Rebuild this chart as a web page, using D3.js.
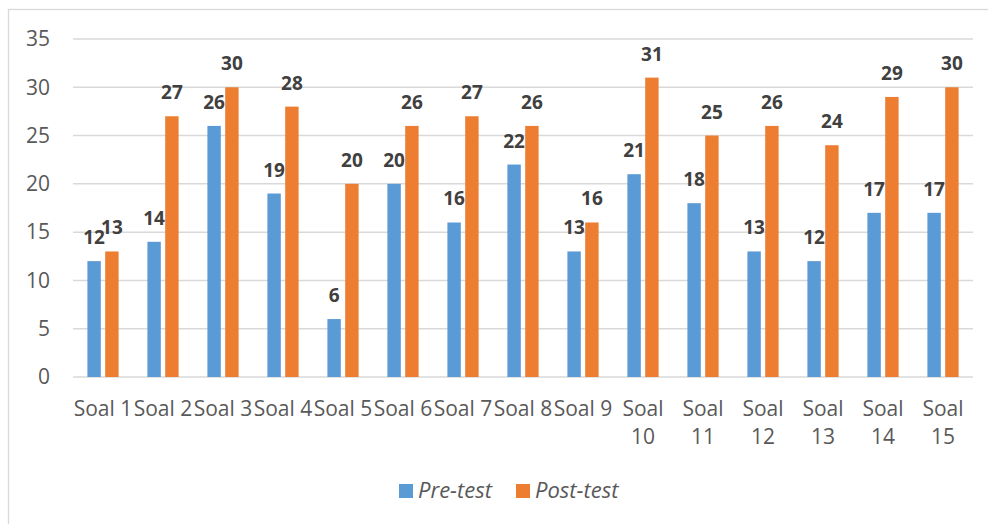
<!DOCTYPE html>
<html>
<head>
<meta charset="utf-8">
<script src="https://cdn.jsdelivr.net/npm/d3@7"></script>
<style>
  html, body { margin: 0; padding: 0; background: #fff; }
  svg { display: block; font-family: "Open Sans", "Liberation Sans", sans-serif; }
</style>
</head>
<body>
<svg id="chart" width="988" height="524"></svg>
<script>
// Scores per question, before and after the lesson
const categories = ["Soal 1","Soal 2","Soal 3","Soal 4","Soal 5","Soal 6","Soal 7","Soal 8","Soal 9","Soal 10","Soal 11","Soal 12","Soal 13","Soal 14","Soal 15"];
const seriesNames = ["Pre-test", "Post-test"];
const preTest  = [12, 14, 26, 19, 6, 20, 16, 22, 13, 21, 18, 13, 12, 17, 17];
const postTest = [13, 27, 30, 28, 20, 26, 27, 26, 16, 31, 25, 26, 24, 29, 30];
const yTicks = [0, 5, 10, 15, 20, 25, 30, 35];
const colors = ["#5B9BD5", "#ED7D31"];

const svg = d3.select("#chart");
const plot = { left: 73, right: 973, top: 39, bottom: 377 };

// Chart frame
svg.append("rect")
  .attr("x", 8.5).attr("y", 9.5)
  .attr("width", 1000).attr("height", 540)
  .attr("fill", "#fff").attr("stroke", "#d9d9d9").attr("stroke-width", 1.3);

const x0 = d3.scaleBand().domain(categories).range([plot.left, plot.right]).padding(0);
const groupW = 31.2;
const x1 = d3.scaleBand().domain(seriesNames).range([0, groupW]).paddingInner(0.247).paddingOuter(0);
const y = d3.scaleLinear().domain([0, 35]).range([plot.bottom, plot.top]);

// Gridlines
svg.append("g").selectAll("line").data(yTicks).join("line")
  .attr("x1", plot.left).attr("x2", plot.right)
  .attr("y1", d => y(d)).attr("y2", d => y(d))
  .attr("stroke", "#d9d9d9").attr("stroke-width", 1.5);

// Y axis labels
const yAxis = d3.axisLeft(y).tickValues(yTicks).tickSize(0).tickPadding(0);
const yg = svg.append("g").attr("transform", `translate(${plot.left - 23},0)`).call(yAxis);
yg.select(".domain").remove();
yg.selectAll("text")
  .attr("font-family", "Open Sans")
  .attr("font-size", 21)
  .attr("fill", "#595959");

// Bars
const data = categories.map((c, i) => ({ cat: c, values: [preTest[i], postTest[i]] }));
const offset = (x0.bandwidth() - groupW) / 2;

const groups = svg.append("g").selectAll("g").data(data).join("g")
  .attr("transform", d => `translate(${x0(d.cat) + offset},0)`);

groups.selectAll("rect")
  .data(d => d.values.map((v, k) => ({ name: seriesNames[k], v, k })))
  .join("rect")
  .attr("x", d => x1(d.name))
  .attr("width", x1.bandwidth())
  .attr("y", d => y(d.v))
  .attr("height", d => y(0) - y(d.v))
  .attr("fill", d => colors[d.k]);

// Value labels
groups.selectAll("text")
  .data(d => d.values.map((v, k) => ({ name: seriesNames[k], v, k })))
  .join("text")
  .attr("x", d => x1(d.name) + x1.bandwidth() / 2)
  .attr("y", d => y(d.v) - 17)
  .attr("text-anchor", "middle")
  .attr("font-family", "Open Sans")
  .attr("font-weight", "bold")
  .attr("font-size", 19)
  .attr("fill", "#404040")
  .text(d => d.v);

// Category labels (wrap two-digit numbers onto a second line)
const xg = svg.append("g");
categories.forEach(c => {
  const cx = x0(c) + x0.bandwidth() / 2;
  const t = xg.append("text")
    .attr("x", cx).attr("y", 416)
    .attr("text-anchor", "middle")
    .attr("font-family", "Open Sans")
    .attr("font-size", 21)
    .attr("fill", "#595959");
  const parts = c.split(" ");
  if (parts[1].length > 1) {
    t.append("tspan").attr("x", cx).attr("y", 416).text(parts[0]);
    t.append("tspan").attr("x", cx).attr("y", 444).text(parts[1]);
  } else {
    t.text(c);
  }
});

// Legend
const legend = svg.append("g");
const legendItems = [
  { name: seriesNames[0], color: colors[0], x: 399 },
  { name: seriesNames[1], color: colors[1], x: 516 }
];
legendItems.forEach(it => {
  legend.append("rect")
    .attr("x", it.x).attr("y", 484)
    .attr("width", 14).attr("height", 14)
    .attr("fill", it.color);
  legend.append("text")
    .attr("x", it.x + 19).attr("y", 498)
    .attr("font-family", "Open Sans")
    .attr("font-style", "italic")
    .attr("font-size", 22)
    .attr("fill", "#595959")
    .text(it.name);
});
</script>
</body>
</html>
